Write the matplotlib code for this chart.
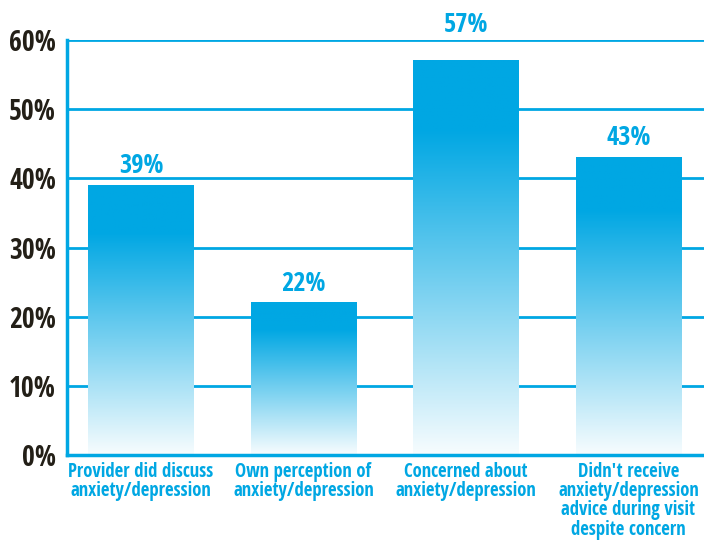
import matplotlib
matplotlib.use("Agg")
import matplotlib.pyplot as plt
import numpy as np

categories = [
    "Provider did discuss\nanxiety/depression",
    "Own perception of\nanxiety/depression",
    "Concerned about\nanxiety/depression",
    "Didn't receive\nanxiety/depression\nadvice during visit\ndespite concern",
]
values = [39, 22, 57, 43]
yticks = [0, 10, 20, 30, 40, 50, 60]

blue = "#00a7e3"
dark = "#231f17"
font = ["Open Sans Condensed", "DejaVu Sans"]

fig = plt.figure(figsize=(7.04, 5.46), dpi=100)
ax = fig.add_axes([0.0952, 0.1667, 0.9048, 0.76])

x = np.arange(len(values))
width = 0.65

# vertical gradient: solid blue near the top, fading to almost white at the bottom
s = np.linspace(0, 1, 256).reshape(-1, 1)
t = np.clip(0.03 + s / 0.85, 0, 1)
top = np.array(matplotlib.colors.to_rgb(blue))
white = np.array([1.0, 1.0, 1.0])
img = white * (1 - t[..., None]) + top * t[..., None]

for xi, v in zip(x, values):
    ax.imshow(img, extent=[xi - width / 2, xi + width / 2, 0, v],
              origin="lower", aspect="auto", zorder=3)
    ly = v + 0.9
    if ly + 3 > yticks[-1]:
        # keep the label clear of the top gridline
        ly = yticks[-1] + 0.3
    ax.text(xi, ly, f"{v}%", ha="center", va="bottom", color=blue,
            fontsize=19, fontweight="bold", family=font, clip_on=False)

ax.set_xlim(-0.455, 3.465)
ax.set_ylim(0, 60)
ax.set_yticks(yticks)
ax.set_yticklabels([f"{t}%" for t in yticks], color=dark, fontsize=20,
                   fontweight="bold", family=font)
ax.set_xticks(x)
ax.set_xticklabels(categories, color=blue, fontsize=13.5, fontweight="bold",
                   family=font, linespacing=0.95, va="top")
ax.tick_params(length=0, pad=8)
ax.tick_params(axis="x", pad=5)

ax.grid(axis="y", color=blue, linewidth=2, zorder=1)
ax.set_axisbelow(True)
for side in ["top", "right"]:
    ax.spines[side].set_visible(False)
for side in ["left", "bottom"]:
    ax.spines[side].set_color(blue)
    ax.spines[side].set_linewidth(2.5)
    ax.spines[side].set_zorder(4)

fig.savefig("out.png", dpi=100)
